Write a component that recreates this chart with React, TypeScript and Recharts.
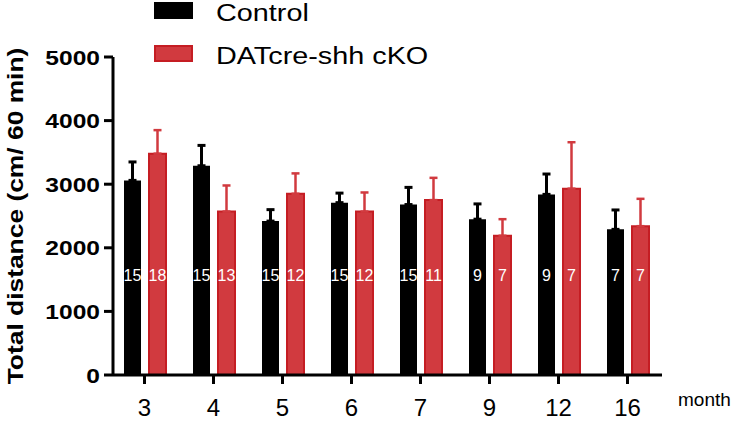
import React from 'react';
import { BarChart, Bar, XAxis, YAxis, ErrorBar, LabelList, Legend } from 'recharts';

const FONT = '"Liberation Sans", Arial, Helvetica, sans-serif';

const months = ['3', '4', '5', '6', '7', '9', '12', '16'];
const controlMean = [3060, 3290, 2420, 2710, 2680, 2450, 2840, 2290];
const controlSem = [290, 320, 180, 150, 270, 240, 320, 305];
const controlN = [15, 15, 15, 15, 15, 9, 9, 7];
const ckoMean = [3480, 2570, 2850, 2570, 2750, 2190, 2930, 2340];
const ckoSem = [370, 410, 320, 300, 350, 260, 730, 430];
const ckoN = [18, 13, 12, 12, 11, 7, 7, 7];
const yTicks = [0, 1000, 2000, 3000, 4000, 5000];
const seriesNames = ['Control', 'DATcre-shh cKO'];

const RED_FILL = '#d13a3f';
const RED_STROKE = '#c51d23';

const data = months.map((m, i) => ({
  month: m,
  control: controlMean[i],
  controlErr: [0, controlSem[i]],
  controlN: controlN[i],
  cko: ckoMean[i],
  ckoErr: [0, ckoSem[i]],
  ckoN: ckoN[i],
}));

const YTick = (props: any) => {
  const { x, y, payload } = props;
  return (
    <g transform={`translate(${x},${y}) scale(1.17,1)`}>
      <text x={0} y={0} dy="0.36em" textAnchor="end" fontSize={21} fontWeight="bold" fontFamily={FONT} fill="#000">
        {payload.value}
      </text>
    </g>
  );
};

const XTick = (props: any) => {
  const { x, y, payload } = props;
  return (
    <text x={x} y={y} dy={30} textAnchor="middle" fontSize={24} fontFamily={FONT} fill="#000">
      {payload.value}
    </text>
  );
};

const NLabel = (props: any) => {
  const { x, y, width, height, value } = props;
  return (
    <text
      x={Number(x) + Number(width) / 2}
      y={Number(y) + Number(height) - 100}
      dy="0.36em"
      textAnchor="middle"
      fontSize={16}
      fontFamily={FONT}
      fill="#fff"
    >
      {value}
    </text>
  );
};

const YLabel = (props: any) => {
  const vb = props.viewBox || { x: 0, y: 57, width: 113, height: 318 };
  const cy = vb.y + vb.height / 2;
  return (
    <g transform={`translate(15,${cy}) rotate(-90) scale(1.2,1)`}>
      <text x={0} y={0} textAnchor="middle" dominantBaseline="central" fontSize={22} fontWeight="bold" fontFamily={FONT} fill="#000">
        Total distance (cm/ 60 min)
      </text>
    </g>
  );
};

const XLabel = (props: any) => {
  const vb = props.viewBox || { x: 113, y: 375, width: 549, height: 47 };
  return (
    <text x={vb.x + vb.width + 16} y={vb.y + 31} textAnchor="start" fontSize={19} fontFamily={FONT} fill="#000">
      month
    </text>
  );
};

const LegendContent = (props: any) => {
  const payload = props.payload || [];
  return (
    <svg width={736} height={70} style={{ display: 'block' }}>
      {payload.map((p: any, i: number) => {
        const top = i === 0 ? 2 : 45;
        const isRed = i === 1;
        return (
          <g key={i}>
            <rect
              x={isRed ? 155 : 154}
              y={isRed ? top + 1 : top}
              width={isRed ? 37 : 39}
              height={isRed ? 15 : 17}
              fill={isRed ? RED_FILL : '#000'}
              stroke={isRed ? RED_STROKE : 'none'}
              strokeWidth={isRed ? 2 : 0}
            />
            <g transform={`translate(216,${top + 19}) scale(1.2,1)`}>
              <text x={0} y={0} fontSize={24} fontFamily={FONT} fill="#000">
                {p.value}
              </text>
            </g>
          </g>
        );
      })}
    </svg>
  );
};

export default function App() {
  return (
    <div style={{ position: 'absolute', left: 0, top: 0, width: 736, height: 422, background: '#fff' }}>
      <BarChart
        width={736}
        height={422}
        data={data}
        margin={{ top: 57, right: 74, bottom: 0, left: 0 }}
        barSize={17}
        barGap={8}
      >
        <Legend
          layout="vertical"
          align="center"
          verticalAlign="middle"
          content={<LegendContent />}
          wrapperStyle={{ position: 'absolute', top: 0, left: 0, width: 736, height: 70 }}
        />
        <XAxis
          dataKey="month"
          height={47}
          padding={{ left: -3, right: 0 }}
          axisLine={{ stroke: '#000', strokeWidth: 3 }}
          tickLine={{ stroke: '#000', strokeWidth: 3 }}
          tickSize={9}
          tick={<XTick />}
          interval={0}
          label={(p: any) => <XLabel {...p} />}
        />
        <YAxis
          width={113}
          domain={[0, 5000]}
          ticks={yTicks}
          interval={0}
          axisLine={{ stroke: '#000', strokeWidth: 3 }}
          tickLine={{ stroke: '#000', strokeWidth: 3 }}
          tickSize={9}
          tickMargin={4}
          tick={<YTick />}
          label={(p: any) => <YLabel {...p} />}
        />
        <Bar dataKey="control" name={seriesNames[0]} fill="#000" isAnimationActive={false}>
          <ErrorBar dataKey="controlErr" direction="y" width={4} strokeWidth={3} stroke="#000" isAnimationActive={false} />
          <LabelList dataKey="controlN" content={<NLabel />} />
        </Bar>
        <Bar dataKey="cko" name={seriesNames[1]} fill={RED_FILL} stroke={RED_STROKE} strokeWidth={2} isAnimationActive={false}>
          <ErrorBar dataKey="ckoErr" direction="y" width={4} strokeWidth={2.5} stroke={RED_FILL} isAnimationActive={false} />
          <LabelList dataKey="ckoN" content={<NLabel />} />
        </Bar>
      </BarChart>
    </div>
  );
}
